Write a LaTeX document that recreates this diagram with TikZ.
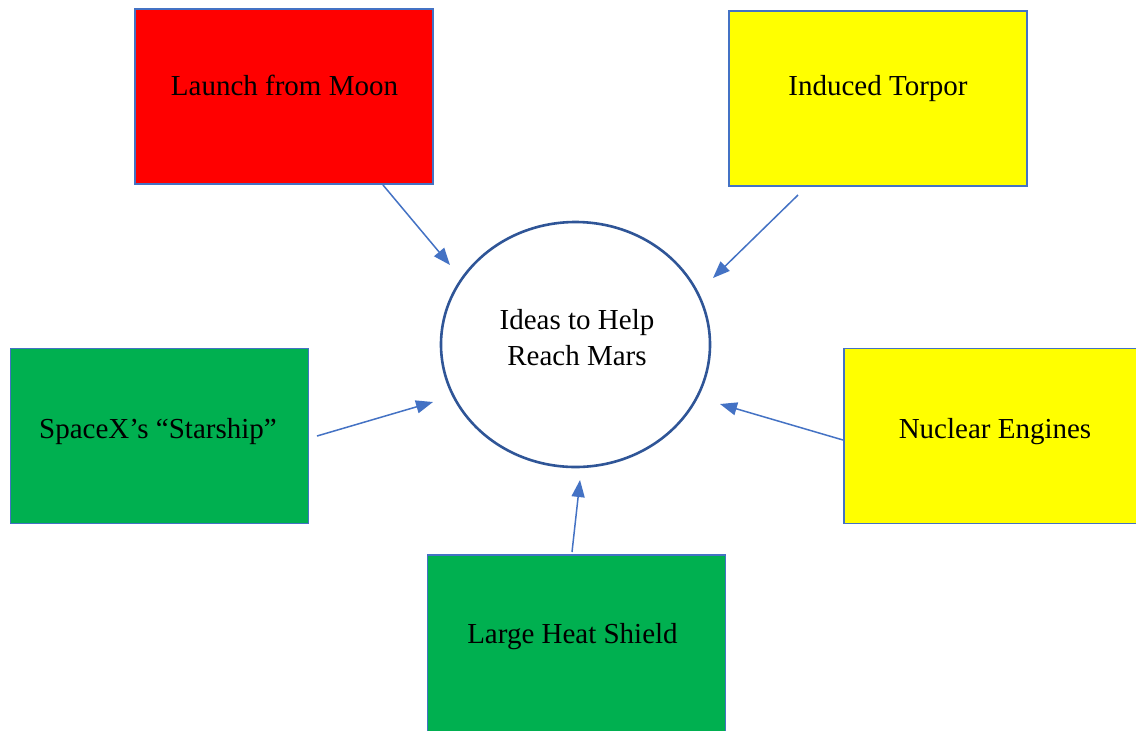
\documentclass[tikz,border=0pt]{standalone}
\usepackage{fontspec}
\setmainfont{Liberation Serif}
\usetikzlibrary{shapes.geometric,arrows.meta}
\definecolor{boxred}{HTML}{FF0000}
\definecolor{boxyellow}{HTML}{FFFF00}
\definecolor{boxgreen}{HTML}{00B050}
\definecolor{edgeblue}{HTML}{4472C4}
\definecolor{ringblue}{HTML}{2F5597}
\begin{document}
\begin{tikzpicture}[x=0.5pt,y=-0.5pt,
  idea/.style={draw=edgeblue, line width=0.6pt, minimum width=149pt, minimum height=87.5pt, inner sep=0pt, outer sep=0pt},
  lbl/.style={anchor=base, font=\fontsize{14.5}{17.5}\selectfont, inner sep=0pt},
  link/.style={draw=edgeblue, line width=0.75pt, -{Triangle[length=8.5pt,width=6.5pt]}},
  hub/.style={ellipse, draw=ringblue, line width=1.3pt, minimum width=134.5pt, minimum height=122.5pt, inner sep=0pt, outer sep=0pt, fill=white}]
\useasboundingbox (0,0) rectangle (1136,730);
\fill[white] (0,0) rectangle (1136,730);
% boxes
\node[idea, fill=boxred] (moon) at (284,96.5) {};
\node[idea, fill=boxyellow] (torpor) at (878,98.5) {};
\node[idea, fill=boxgreen] (starship) at (159.5,436) {};
\node[idea, fill=boxyellow, minimum width=152pt] (nuclear) at (996,436) {};
\node[idea, fill=boxgreen, minimum height=89pt] (shield) at (576.5,644) {};
\node[hub] (hub) at (575.5,344.5) {};
% labels
\node[lbl] (tmoon) at (284.5,95) {Launch from Moon};
\node[lbl] (ttorpor) at (878,95) {Induced Torpor};
\node[lbl] (tstar) at (158,438) {SpaceX’s “Starship”};
\node[lbl] (tnuc) at (995,438) {Nuclear Engines};
\node[lbl] (tshield) at (572.5,643) {Large Heat Shield};
\node[lbl] (thub1) at (577,329) {Ideas to Help};
\node[lbl] (thub2) at (577,365) {Reach Mars};
% connector end points
\coordinate (s1) at (383,185); \coordinate (e1) at (450,265);
\coordinate (s2) at (798,195); \coordinate (e2) at (713,278);
\coordinate (s3) at (317,436); \coordinate (e3) at (433,402);
\coordinate (s4) at (843,440); \coordinate (e4) at (720,404);
\coordinate (s5) at (572,552); \coordinate (e5) at (580,480);
\draw[link] (s1) -- (e1);
\draw[link] (s2) -- (e2);
\draw[link] (s3) -- (e3);
\draw[link] (s4) -- (e4);
\draw[link] (s5) -- (e5);
\end{tikzpicture}
\end{document}
